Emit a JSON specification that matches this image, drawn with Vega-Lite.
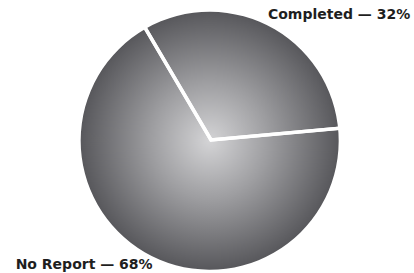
{
  "$schema": "https://vega.github.io/schema/vega-lite/v6.json",
  "width": 406,
  "height": 266,
  "padding": {"left": 8, "top": 7, "right": 0, "bottom": 0},
  "autosize": "none",
  "background": "white",
  "config": {"view": {"stroke": null}},
  "data": {"values": [
    {"category": "Completed", "value": 32, "label": "Completed — 32%"},
    {"category": "No Report", "value": 68, "label": "No Report — 68%"}
  ]},
  "layer": [
    {
      "data": {"values": [{"total": 100}]},
      "mark": {
        "type": "arc",
        "outerRadius": 129,
        "fill": {
          "gradient": "radial",
          "x1": 0.5, "y1": 0.5, "r1": 0,
          "x2": 0.5, "y2": 0.5, "r2": 0.5,
          "stops": [
            {"offset": 0, "color": "#d4d4d6"},
            {"offset": 0.45, "color": "#9e9ea1"},
            {"offset": 1, "color": "#58585c"}
          ]
        }
      },
      "encoding": {
        "theta": {"field": "total", "type": "quantitative", "scale": {"range": [-0.531, 5.752]}}
      }
    },
    {
      "mark": {"type": "arc", "outerRadius": 133, "fill": "transparent", "stroke": "white", "strokeWidth": 3.5},
      "encoding": {
        "theta": {"field": "value", "type": "quantitative", "stack": true},
        "order": {"field": "value", "sort": "ascending"}
      }
    },
    {
      "mark": {"type": "text", "radius": 140, "align": "left", "baseline": "middle", "dx": -7, "font": "DejaVu Sans", "fontWeight": "bold", "fontSize": 14, "fill": "#1e1e1e"},
      "encoding": {
        "theta": {"field": "value", "type": "quantitative", "stack": true},
        "order": {"field": "value", "sort": "ascending"},
        "text": {"condition": {"test": "datum.category === 'Completed'", "field": "label"}, "value": ""}
      }
    },
    {
      "mark": {"type": "text", "radius": 141, "align": "right", "baseline": "middle", "dx": 6, "font": "DejaVu Sans", "fontWeight": "bold", "fontSize": 14, "fill": "#1e1e1e"},
      "encoding": {
        "theta": {"field": "value", "type": "quantitative", "stack": true},
        "order": {"field": "value", "sort": "ascending"},
        "text": {"condition": {"test": "datum.category === 'No Report'", "field": "label"}, "value": ""}
      }
    }
  ]
}
